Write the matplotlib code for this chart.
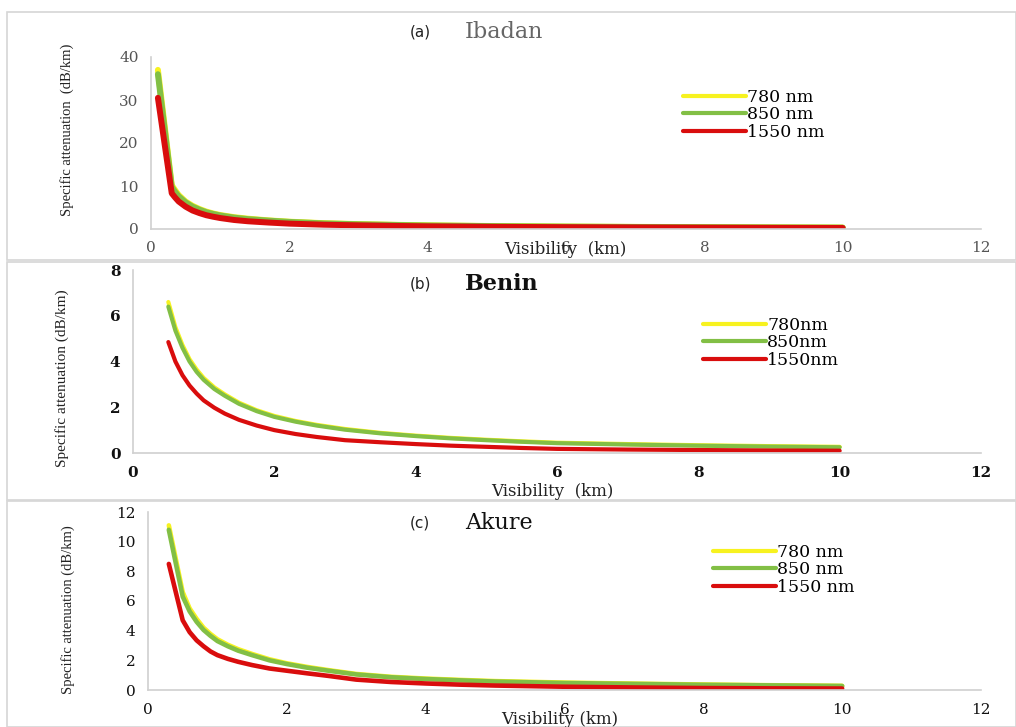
import matplotlib.pyplot as plt
from matplotlib.patches import Rectangle

W, H = 1016, 727

# ---- data ----
ibadan_x = [0.1, 0.3, 0.35, 0.4, 0.5, 0.6, 0.7, 0.8, 0.9, 1.0, 1.2, 1.4, 1.7, 2.0,
            2.5, 3.0, 3.5, 4.0, 5.0, 6.0, 7.0, 8.0, 9.0, 10.0]
ibadan_780 = [37.0, 10.2, 9.0, 7.9, 6.4, 5.4, 4.65, 4.05, 3.6, 3.25, 2.75, 2.4, 2.0, 1.7,
              1.35, 1.13, 0.98, 0.85, 0.68, 0.57, 0.49, 0.43, 0.38, 0.34]
ibadan_850 = [36.0, 9.8, 8.6, 7.6, 6.2, 5.2, 4.5, 3.9, 3.5, 3.15, 2.65, 2.3, 1.95, 1.65,
              1.3, 1.1, 0.95, 0.82, 0.66, 0.55, 0.47, 0.41, 0.36, 0.32]
ibadan_1550 = [30.5, 8.3, 7.3, 6.4, 5.2, 4.3, 3.7, 3.2, 2.85, 2.55, 2.1, 1.8, 1.5, 1.25,
               1.0, 0.85, 0.72, 0.62, 0.5, 0.42, 0.36, 0.31, 0.27, 0.24]

benin_x = [0.5, 0.6, 0.7, 0.8, 0.9, 1.0, 1.15, 1.3, 1.5, 1.75, 2.0, 2.3, 2.6, 3.0,
           3.5, 4.0, 4.5, 5.0, 5.5, 6.0, 7.0, 8.0, 9.0, 10.0]
benin_780 = [6.6, 5.5, 4.72, 4.1, 3.65, 3.28, 2.87, 2.56, 2.2, 1.87, 1.62, 1.4, 1.23, 1.05,
             0.88, 0.76, 0.66, 0.58, 0.51, 0.45, 0.39, 0.34, 0.3, 0.27]
benin_850 = [6.4, 5.35, 4.6, 4.0, 3.55, 3.2, 2.8, 2.5, 2.15, 1.83, 1.58, 1.37, 1.2, 1.02,
             0.86, 0.74, 0.64, 0.56, 0.49, 0.43, 0.37, 0.32, 0.28, 0.25]
benin_1550 = [4.85, 4.0, 3.4, 2.95, 2.6, 2.3, 1.98, 1.72, 1.45, 1.2, 1.0, 0.83, 0.7, 0.56,
              0.47, 0.39, 0.32, 0.27, 0.22, 0.18, 0.15, 0.13, 0.11, 0.1]

akure_x = [0.3, 0.5, 0.6, 0.7, 0.8, 0.9, 1.0, 1.15, 1.3, 1.5, 1.75, 2.0, 2.3, 2.6,
           3.0, 3.5, 4.0, 4.5, 5.0, 6.0, 7.0, 8.0, 9.0, 10.0]
akure_780 = [11.1, 6.6, 5.5, 4.8, 4.2, 3.78, 3.42, 3.05, 2.75, 2.43, 2.07, 1.8, 1.55, 1.34,
             1.08, 0.89, 0.77, 0.68, 0.6, 0.5, 0.43, 0.37, 0.32, 0.28]
akure_850 = [10.8, 6.3, 5.3, 4.6, 4.05, 3.65, 3.3, 2.95, 2.65, 2.35, 2.0, 1.75, 1.5, 1.3,
             1.05, 0.86, 0.74, 0.65, 0.57, 0.47, 0.41, 0.35, 0.31, 0.27]
akure_1550 = [8.5, 4.7, 3.9, 3.35, 2.95, 2.6, 2.35, 2.1, 1.9, 1.68, 1.45, 1.3, 1.12, 0.95,
              0.7, 0.54, 0.44, 0.36, 0.3, 0.22, 0.17, 0.13, 0.11, 0.1]

labels_a = ['780 nm', '850 nm', '1550 nm']
labels_b = ['780nm', '850nm', '1550nm']
labels_c = ['780 nm', '850 nm', '1550 nm']

YELLOW, GREEN, RED = '#f7f21f', '#82bf45', '#d90d0d'
SERIF = 'DejaVu Serif'
NARROW = 'Liberation Serif'


def fx(x):
    return x / W


def fy(y):
    return 1 - y / H


fig = plt.figure(figsize=(W / 100, H / 100), dpi=100)
fig.patch.set_facecolor('white')

# panel frames
for top, bot in [(12, 260), (262, 500), (501, 727)]:
    fig.add_artist(Rectangle((fx(7), fy(bot)), fx(1016 - 7), (bot - top) / H,
                             transform=fig.transFigure, fill=False,
                             edgecolor='#d6d6d6', lw=1.2))


def panel(left, zero_y, top_y, ymax, ystep, x, series, labels, lw, tickcol,
          tickweight, ylab, ylab_xy, ylab_fs, xlab, xlab_xy,
          tag, name, name_col, name_weight, title_y, leg_xy, leg_fs):
    ax = fig.add_axes([fx(left), fy(zero_y), fx(981 - left), (zero_y - top_y) / H])
    for ys, c in zip(series, [YELLOW, GREEN, RED]):
        ax.plot(x, ys, color=c, lw=lw, solid_capstyle='round', solid_joinstyle='round')
    ax.set_xlim(0, 12)
    ax.set_ylim(0, ymax)
    ax.set_xticks(range(0, 13, 2))
    ax.set_yticks(range(0, ymax + 1, ystep))
    for s in ['top', 'right']:
        ax.spines[s].set_visible(False)
    for s in ['left', 'bottom']:
        ax.spines[s].set_color('#d0d0d0')
        ax.spines[s].set_linewidth(1.2)
    ax.tick_params(length=0, colors=tickcol, labelsize=11, pad=9)
    for t in ax.get_xticklabels() + ax.get_yticklabels():
        t.set_family(SERIF)
        t.set_weight(tickweight)
    ax.patch.set_alpha(0)
    # y label
    fig.text(fx(ylab_xy[0]), fy(ylab_xy[1]), ylab, rotation=90,
             ha='center', va='center', family=NARROW, fontsize=ylab_fs, color='#222222')
    # x label
    fig.text(fx(xlab_xy[0]), fy(xlab_xy[1]), xlab, ha='center', va='center',
             family=SERIF, fontsize=12, color='#222222')
    # title
    fig.text(fx(410), fy(title_y), tag, ha='left', va='center',
             family='DejaVu Sans', fontsize=11, color='#222222')
    fig.text(fx(465), fy(title_y), name, ha='left', va='center',
             family=SERIF, fontsize=16, color=name_col, weight=name_weight)
    # legend
    handles = ax.get_lines()
    leg = ax.legend(handles, labels, loc='upper left',
                    bbox_to_anchor=(fx(leg_xy[0]), fy(leg_xy[1])),
                    bbox_transform=fig.transFigure, frameon=False,
                    handlelength=3.6, handletextpad=0.1, labelspacing=0.02,
                    borderpad=0, borderaxespad=0,
                    prop={'family': SERIF, 'size': leg_fs})
    for ln in leg.get_lines():
        ln.set_linewidth(3)
    return ax


panel(151, 229, 57, 40, 10, ibadan_x, [ibadan_780, ibadan_850, ibadan_1550],
      labels_a, 4.3, '#555555', 'normal',
      'Specific attenuation  (dB/km)', (67, 130), 10.5,
      'Visibility  (km)', (565, 250),
      '(a)', 'Ibadan', '#666666', 'normal', 32, (683, 89), 12.5)

panel(133, 453, 270, 8, 2, benin_x, [benin_780, benin_850, benin_1550],
      labels_b, 3.0, '#111111', 'bold',
      'Specific attenuation (dB/km)', (62, 378), 11,
      'Visibility  (km)', (552, 492),
      '(b)', 'Benin', '#111111', 'bold', 284, (703, 317), 12.5)

panel(148, 690, 512, 12, 2, akure_x, [akure_780, akure_850, akure_1550],
      labels_c, 3.3, '#111111', 'normal',
      'Specific attenuation (dB/km)', (68, 610), 10.5,
      'Visibility (km)', (560, 720),
      '(c)', 'Akure', '#111111', 'normal', 523, (713, 544), 12.5)

fig.savefig('out.png', dpi=100, facecolor='white')
